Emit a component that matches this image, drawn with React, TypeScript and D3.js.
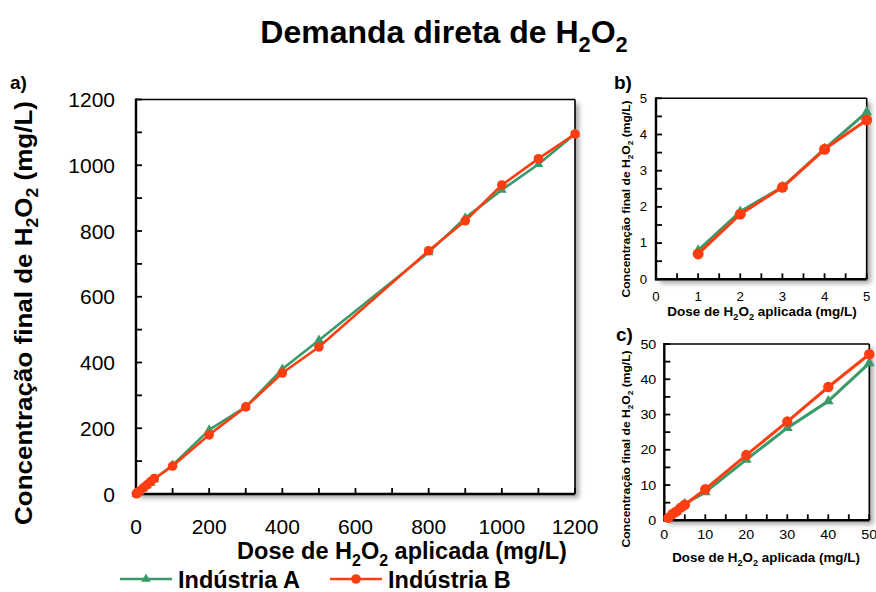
import React from "react";
import * as d3 from "d3";

// Applied H2O2 dose (mg/L) and final measured concentration (mg/L) for each plant
const doses = [1, 2, 3, 4, 5, 10, 20, 30, 40, 50, 100, 200, 300, 400, 500, 800, 900, 1000, 1100, 1200];
const industriaA = [0.8, 1.87, 2.55, 3.6, 4.62, 8.0, 17.2, 26.2, 33.8, 44.6, 88, 195, 265, 380, 468, 735, 840, 925, 1003, 1095];
const industriaB = [0.7, 1.8, 2.54, 3.59, 4.4, 8.8, 18.5, 28.0, 37.8, 47.1, 85, 180, 265, 368, 447, 740, 831, 940, 1020, 1095];

const seriesNames = ["Indústria A", "Indústria B"];
const titleParts = ["Demanda direta de H", "_2", "O", "_2"];
const yTitleParts = ["Concentração final de H", "_2", "O", "_2", " (mg/L)"];
const xTitleParts = ["Dose de H", "_2", "O", "_2", " aplicada (mg/L)"];

const GREEN = "#3a9a68";
const RED = "#ff3d12";
const FONT = "'Liberation Sans', Arial, sans-serif";

function Rich({ parts, fontSize, bold, x, y, anchor = "start", transform, sx = 1 }: any) {
  const shift = fontSize * 0.28;
  let sub = false;
  const spans = parts.map((p: string, i: number) => {
    const isSub = p.startsWith("_");
    const txt = isSub ? p.slice(1) : p;
    let dy = 0;
    if (isSub && !sub) dy = shift;
    if (!isSub && sub) dy = -shift;
    sub = isSub;
    return (
      <tspan key={i} dy={dy} fontSize={isSub ? fontSize * 0.68 : fontSize}>
        {txt}
      </tspan>
    );
  });
  const tf = transform ?? `translate(${x},${y}) scale(${sx},1)`;
  return (
    <text
      transform={tf}
      textAnchor={anchor}
      fontFamily={FONT}
      fontWeight={bold ? "bold" : "normal"}
      fontSize={fontSize}
      fill="#000"
    >
      {spans}
    </text>
  );
}

type PanelProps = {
  tag: string;
  x0: number; x1: number; y0: number; y1: number;
  max: number; minor: number; major: number;
  tickFont: number; tickSx: number; tickGap: number; xTickBase: number;
  xTitleFont: number; xTitleSx: number; yTitleFont: number; yTitleSx: number;
  xTitleX: number; xTitleY: number; yTitleX: number; yTitleY: number;
  tagX: number; tagY: number; tagFont: number;
  lineW: number; r: number; tri: number; shadowId: string;
};

function Panel(p: PanelProps) {
  const x = d3.scaleLinear().domain([0, p.max]).range([p.x0, p.x1]);
  const y = d3.scaleLinear().domain([0, p.max]).range([p.y0, p.y1]);
  const idx = doses.map((_, i) => i).filter((i) => doses[i] <= p.max);
  const pathFor = (vals: number[]) =>
    d3
      .line<number>()
      .x((i) => x(doses[i]))
      .y((i) => y(vals[i]))(idx) as string;
  const minorTicks = d3.range(0, p.max + 1e-9, p.minor);
  const labelTicks = d3.range(0, p.max + 1e-9, p.major);
  const triPath = d3.symbol(d3.symbolTriangle, p.tri)() as string;
  return (
    <g>
      <rect
        x={p.x0}
        y={p.y1}
        width={p.x1 - p.x0}
        height={p.y0 - p.y1}
        fill="#fff"
        filter={`url(#${p.shadowId})`}
      />
      {/* frame */}
      <line x1={p.x0} x2={p.x1} y1={p.y1} y2={p.y1} stroke="#000" strokeWidth={1.6} />
      <line x1={p.x1} x2={p.x1} y1={p.y1} y2={p.y0} stroke="#000" strokeWidth={1.6} />
      <line x1={p.x0} x2={p.x0} y1={p.y1 - 1} y2={p.y0 + 1} stroke="#000" strokeWidth={2.4} />
      <line x1={p.x0 - 1} x2={p.x1} y1={p.y0} y2={p.y0} stroke="#000" strokeWidth={2.4} />
      {/* inward ticks */}
      {minorTicks.map((t) => (
        <g key={"t" + t}>
          <line x1={p.x0} x2={p.x0 + 6} y1={y(t)} y2={y(t)} stroke="#000" strokeWidth={1.8} />
          <line x1={x(t)} x2={x(t)} y1={p.y0} y2={p.y0 - 6} stroke="#000" strokeWidth={1.8} />
        </g>
      ))}
      {labelTicks.map((t) => (
        <text
          key={"yl" + t}
          transform={`translate(${p.x0 - p.tickGap},${y(t) + p.tickFont * 0.36}) scale(${p.tickSx},1)`}
          textAnchor="end"
          fontFamily={FONT}
          fontSize={p.tickFont}
          fill="#000"
        >
          {t}
        </text>
      ))}
      {labelTicks.map((t) => (
        <text
          key={"xl" + t}
          transform={`translate(${x(t)},${p.xTickBase}) scale(${p.tickSx},1)`}
          textAnchor="middle"
          fontFamily={FONT}
          fontSize={p.tickFont}
          fill="#000"
        >
          {t}
        </text>
      ))}
      {/* series */}
      <path d={pathFor(industriaA)} fill="none" stroke={GREEN} strokeWidth={p.lineW} strokeLinejoin="round" />
      {idx.map((i) => (
        <path key={"a" + i} d={triPath} transform={`translate(${x(doses[i])},${y(industriaA[i])})`} fill={GREEN} />
      ))}
      <path d={pathFor(industriaB)} fill="none" stroke={RED} strokeWidth={p.lineW} strokeLinejoin="round" />
      {idx.map((i) => (
        <circle key={"b" + i} cx={x(doses[i])} cy={y(industriaB[i])} r={p.r} fill={RED} />
      ))}
      {/* titles */}
      <Rich
        parts={xTitleParts}
        fontSize={p.xTitleFont}
        bold
        x={p.xTitleX}
        y={p.xTitleY}
        sx={p.xTitleSx}
        anchor="middle"
      />
      <Rich
        parts={yTitleParts}
        fontSize={p.yTitleFont}
        bold
        anchor="middle"
        transform={`translate(${p.yTitleX},${p.yTitleY}) rotate(-90) scale(${p.yTitleSx},1)`}
      />
      <text x={p.tagX} y={p.tagY} fontFamily={FONT} fontWeight="bold" fontSize={p.tagFont}>
        {p.tag}
      </text>
    </g>
  );
}

export default function App() {
  const triLegend = d3.symbol(d3.symbolTriangle, 40)() as string;
  return (
    <svg
      width={876}
      height={592}
      style={{ position: "absolute", left: 0, top: 0, background: "#fff" }}
    >
      <defs>
        {["shA", "shB", "shC"].map((id) => (
          <filter key={id} id={id} x="-5%" y="-5%" width="115%" height="115%">
            <feDropShadow dx={4} dy={4} stdDeviation={2.5} floodColor="#000" floodOpacity={0.35} />
          </filter>
        ))}
      </defs>
      <Rich parts={titleParts} fontSize={32} bold x={444} y={43} anchor="middle" />

      <Panel
        tag="a)" tagX={10} tagY={89} tagFont={19}
        x0={136} x1={575} y0={494} y1={99.5}
        max={1200} minor={100} major={200}
        tickFont={21} tickSx={1} tickGap={21} xTickBase={534}
        xTitleFont={23.5} xTitleSx={1} yTitleFont={23} yTitleSx={1.13}
        xTitleX={402} xTitleY={559} yTitleX={32} yTitleY={313}
        lineW={2.6} r={4.8} tri={42} shadowId="shA"
      />
      <Panel
        tag="b)" tagX={614} tagY={89} tagFont={19}
        x0={656} x1={866.7} y0={279.3} y1={98.3}
        max={5} minor={0.5} major={1}
        tickFont={12} tickSx={1.1} tickGap={9} xTickBase={301}
        xTitleFont={12.5} xTitleSx={1.08} yTitleFont={11} yTitleSx={1.1}
        xTitleX={762} xTitleY={316} yTitleX={630} yTitleY={199}
        lineW={3} r={5.5} tri={50} shadowId="shB"
      />
      <Panel
        tag="c)" tagX={616} tagY={341} tagFont={19}
        x0={664.3} x1={869.3} y0={520.3} y1={344}
        max={50} minor={5} major={10}
        tickFont={13} tickSx={1.1} tickGap={8} xTickBase={539}
        xTitleFont={12.5} xTitleSx={1.07} yTitleFont={11} yTitleSx={1.1}
        xTitleX={766} xTitleY={562} yTitleX={630} yTitleY={449}
        lineW={3} r={5.2} tri={50} shadowId="shC"
      />

      {/* legend */}
      <g>
        <line x1={120} x2={172} y1={579} y2={579} stroke={GREEN} strokeWidth={2.6} />
        <path d={triLegend} transform="translate(146,579)" fill={GREEN} />
        <text x={178} y={588} fontFamily={FONT} fontWeight="bold" fontSize={23.5}>
          {seriesNames[0]}
        </text>
        <line x1={330} x2={382} y1={579} y2={579} stroke={RED} strokeWidth={2.6} />
        <circle cx={356} cy={579} r={4.8} fill={RED} />
        <text x={388} y={588} fontFamily={FONT} fontWeight="bold" fontSize={23.5}>
          {seriesNames[1]}
        </text>
      </g>
    </svg>
  );
}
